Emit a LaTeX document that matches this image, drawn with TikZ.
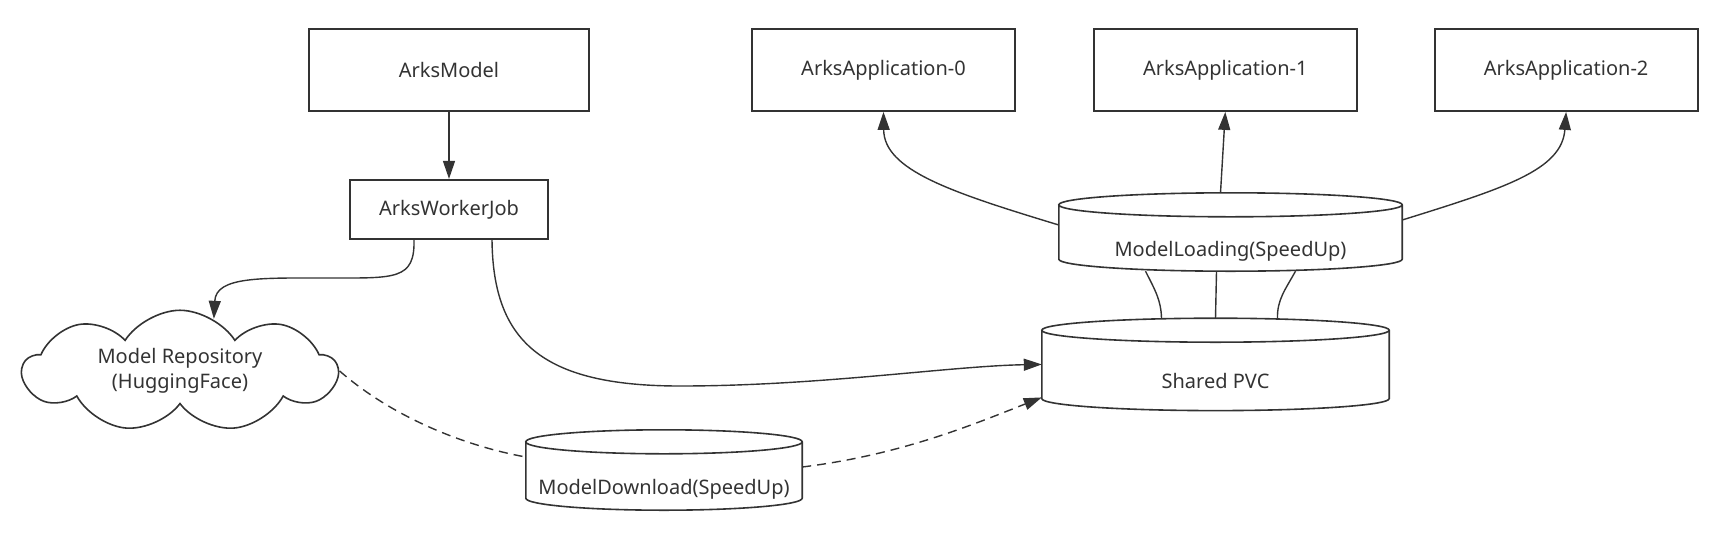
\documentclass[tikz,border=0pt]{standalone}
\usepackage{fontspec}
\setmainfont{Noto Sans}
\usetikzlibrary{shapes.symbols, arrows.meta, positioning, calc}

\definecolor{ink}{HTML}{333333}

% volume outline drawn round a named node
\newcommand\drum[1]{%
  \draw[drumline] let \p1=(#1.north west), \p2=(#1.south east), \n1={(\x2-\x1)/2} in
    (\x1,\y1-12pt) -- (\x1,\y2+12pt) arc[start angle=180, end angle=360, x radius=\n1, y radius=12pt] -- (\x2,\y1-12pt)
    (\x1+\n1,\y1-12pt) ellipse[x radius=\n1, y radius=12pt];}

\begin{document}
\begin{tikzpicture}[
    x=1pt, y=1pt,
    font=\fontsize{20pt}{25pt}\selectfont,
    text=ink,
    box/.style={rectangle, draw=ink, line width=1.8pt, minimum width=263pt, minimum height=82pt},
    drumnode/.style={rectangle, inner sep=0pt, text height=48pt, text depth=0pt},
    drumline/.style={draw=ink, line width=1.6pt},
    cloudbox/.style={cloud, draw=ink, line width=1.6pt, cloud puffs=9, cloud puff arc=115, aspect=3, align=center, minimum width=314pt, minimum height=103pt},
    arrow/.style={-{Triangle[length=18pt, width=12pt]}, draw=ink, line width=1.4pt},
    link/.style={draw=ink, line width=1.4pt},
    dashlink/.style={link, dash pattern=on 9pt off 6pt}
]
\useasboundingbox (0,0) rectangle (1715,-544);

% Operator side
\node[box, minimum width=280pt] (model) at (449,-70) {ArksModel};
\node[box, minimum width=198pt, minimum height=59pt, below=67pt of model] (worker) {ArksWorkerJob};

% Applications
\node[box] (app0) at (883.5,-70) {ArksApplication-0};
\node[box, right=77pt of app0] (app1) {ArksApplication-1};
\node[box, right=76pt of app1] (app2) {ArksApplication-2};

% Volumes
\node[drumnode, minimum width=343pt, minimum height=78pt] (loading) at (1230.5,-232) {ModelLoading(SpeedUp)};
\node[drumnode, minimum width=347pt, minimum height=92pt, below=47pt of loading, xshift=-15pt] (pvc) {Shared PVC};
\node[drumnode, minimum width=276pt, minimum height=80pt] (download) at (664,-470) {ModelDownload(SpeedUp)};
\drum{loading}
\drum{pvc}
\drum{download}

% Model source
\node[cloudbox] (repo) at (180,-371) {Model Repository\\(HuggingFace)};

% Arrows
\draw[arrow] (model) -- (worker);
\draw[arrow] ([xshift=-35pt]worker.south) .. controls (415,-280) and (395,-278) .. (330,-278)
    .. controls (262,-278) and (216,-276) .. (repo.57);
\draw[arrow] ([xshift=43pt]worker.south) .. controls (493,-340) and (540,-386) .. (680,-386)
    .. controls (820,-386) and (950,-366) .. (pvc.west);
\draw[dashlink] (repo.east) .. controls (390,-415) and (460,-445) .. ([yshift=13pt]download.west);
\draw[arrow, dash pattern=on 9pt off 6pt] ([yshift=3pt]download.east) .. controls (900,-455) and (972,-425) .. ([yshift=-33pt]pvc.west);
\draw[arrow] ([yshift=7pt]loading.west) .. controls (950,-192) and (884,-170) .. (app0.south);
\draw[arrow] ([xshift=-10pt]loading.north) -- (app1.south);
\draw[arrow] ([yshift=12pt]loading.east) .. controls (1505,-188) and (1562,-170) .. (app2.south);

% Volume links
\draw[link] ([xshift=-85pt]loading.south) .. controls (1155,-290) and (1161,-300) .. ([xshift=-54pt]pvc.north);
\draw[link] ([xshift=-14pt]loading.south) -- (pvc.north);
\draw[link] ([xshift=65pt]loading.south) .. controls (1285,-290) and (1277,-300) .. ([xshift=62pt]pvc.north);

\end{tikzpicture}
\end{document}
